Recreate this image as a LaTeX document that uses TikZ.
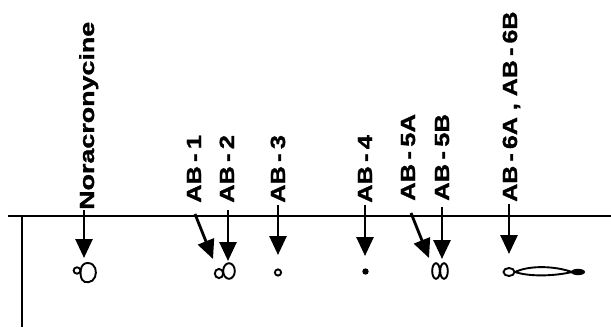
\documentclass[tikz,border=0pt]{standalone}
\usepackage{fontspec}
\usepackage{graphicx}
\setmainfont{Liberation Sans}
\newfontfamily\labfont[FakeBold=1.2]{Liberation Sans Bold}
\usetikzlibrary{arrows.meta}
\newcommand\wide[2]{\scalebox{#1}[1]{#2}}
\newcommand\dash{\,-\,}
\begin{document}
\begin{tikzpicture}[x=1pt,y=-1pt,
  lab/.style={font=\labfont\fontsize{20.5}{20.5}\selectfont, inner sep=0pt,
              rotate=90, anchor=base west},
  axis/.style={line width=2.2pt},
  pointer/.style={line width=2.8pt, -{Triangle[length=19pt,width=17pt]}},
  spot/.style={line width=1.9pt}]
\useasboundingbox (0,0) rectangle (611,327);

% origin line and solvent start
\coordinate (L) at (8,216);
\coordinate (R) at (611,216);
\coordinate (V1) at (22,216);
\coordinate (V2) at (22,327);
\draw[axis] (L) -- (R);
\draw[axis] (V1) -- (V2);

% compound labels
\node[lab] (nor) at (94,210) {\wide{1.31}{Noracronycine}};
\node[lab] (ab1) at (201,203) {\wide{1.24}{AB\dash 1}};
\node[lab] (ab2) at (234,203) {\wide{1.24}{AB\dash 2}};
\node[lab] (ab3) at (285,203) {\wide{1.24}{AB\dash 3}};
\node[lab] (ab4) at (372,203) {\wide{1.24}{AB\dash 4}};
\node[lab] (ab5a) at (415,201) {\wide{1.25}{AB\dash 5A}};
\node[lab] (ab5b) at (449,201) {\wide{1.25}{AB\dash 5B}};
\node[lab] (ab6) at (517,202) {\wide{1.22}{AB\dash 6A , AB\dash 6B}};

% arrow ends
\coordinate (norS) at (84,210);  \coordinate (norT) at (84,258);
\coordinate (ab1S) at (195,214); \coordinate (ab1T) at (213,259);
\coordinate (ab2S) at (228,210); \coordinate (ab2T) at (228,261);
\coordinate (ab3S) at (278,205); \coordinate (ab3T) at (278,255);
\coordinate (ab4S) at (365,205); \coordinate (ab4T) at (365,256);
\coordinate (ab5aS) at (411,213); \coordinate (ab5aT) at (429,258);
\coordinate (ab5bS) at (442,207); \coordinate (ab5bT) at (442,259);
\coordinate (ab6S) at (509,204); \coordinate (ab6T) at (509,254);

\draw[pointer] (norS) -- (norT);
\draw[pointer] (ab1S) -- (ab1T);
\draw[pointer] (ab2S) -- (ab2T);
\draw[pointer] (ab3S) -- (ab3T);
\draw[pointer] (ab4S) -- (ab4T);
\draw[pointer] (ab5aS) -- (ab5aT);
\draw[pointer] (ab5bS) -- (ab5bT);
\draw[pointer] (ab6S) -- (ab6T);

% spots
% noracronycine
\draw[spot] (87.5,263) .. controls (96,263) and (97,272) .. (95,277)
  .. controls (93,283) and (84,284) .. (82,279.5)
  .. controls (79.5,275) and (79.5,263) .. (87.5,263) -- cycle;
\draw[spot] (77,270.5) circle[x radius=3.4, y radius=3.2];
% AB-1 / AB-2
\draw[spot] (219,273.5) circle[x radius=4.2, y radius=4.6];
\draw[spot] (229,271) circle[x radius=5.8, y radius=7.8];
% AB-3
\draw[spot] (278,272.5) circle[radius=3.1];
% AB-4
\fill (365.5,271.5) circle[radius=3.2];
% AB-5A / AB-5B
\draw[spot] (436,271) circle[x radius=3.8, y radius=7.8];
\draw[spot] (444,271) circle[x radius=3.8, y radius=7.8];
% AB-6A, AB-6B
\draw[spot] (509,272) circle[x radius=5.5, y radius=4];
\draw[spot] (515,272) .. controls (530,265) and (555,266) .. (572,272)
  .. controls (555,276) and (530,277) .. (515,272);
\fill (578,272) circle[x radius=7, y radius=3.2];
\end{tikzpicture}
\end{document}
